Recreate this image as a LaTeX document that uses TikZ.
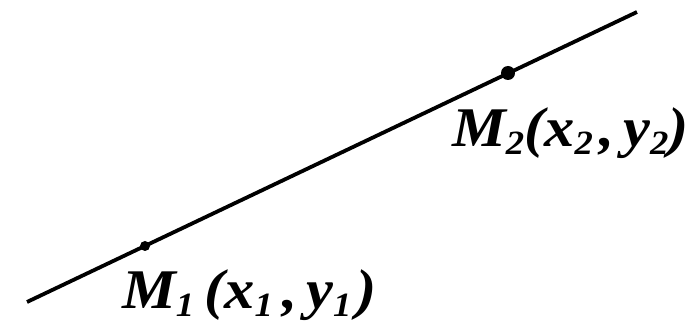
\documentclass[tikz,border=0pt]{standalone}
\usepackage{fontspec}
\setmainfont{Liberation Serif}
\newfontfamily\lblfont[FakeStretch=1.08]{Liberation Serif}
\usetikzlibrary{positioning}
\newcommand\idx[1]{\raisebox{-8pt}{\fontsize{34}{34}\selectfont #1}}
\tikzset{
    pt/.style={circle, fill=black, inner sep=0pt},
    lbl/.style={anchor=base west, inner sep=0pt, font=\lblfont\fontsize{56}{60}\selectfont\bfseries\itshape}
}
\begin{document}
\begin{tikzpicture}[x=1pt, y=1pt]
    \useasboundingbox (0,0) rectangle (699,324);
    \coordinate (a) at (27,22);
    \coordinate (b) at (637,312);
    \draw [line width=3.8pt] (a) -- (b);
    \node [pt, minimum size=10pt] (m1) at (145,78) {};
    \node [pt, minimum size=14pt] (m2) at (508,251) {};
    \node [lbl] (t1) at (122,15) {M\idx{1}\kern10pt(x\idx{1}\kern9pt,\kern9pt y\idx{1}\kern5pt)};
    \node [lbl] (t2) at (452,177) {M\idx{2}(x\idx{2}\kern6pt,\kern9pt y\idx{2})};
\end{tikzpicture}
\end{document}
